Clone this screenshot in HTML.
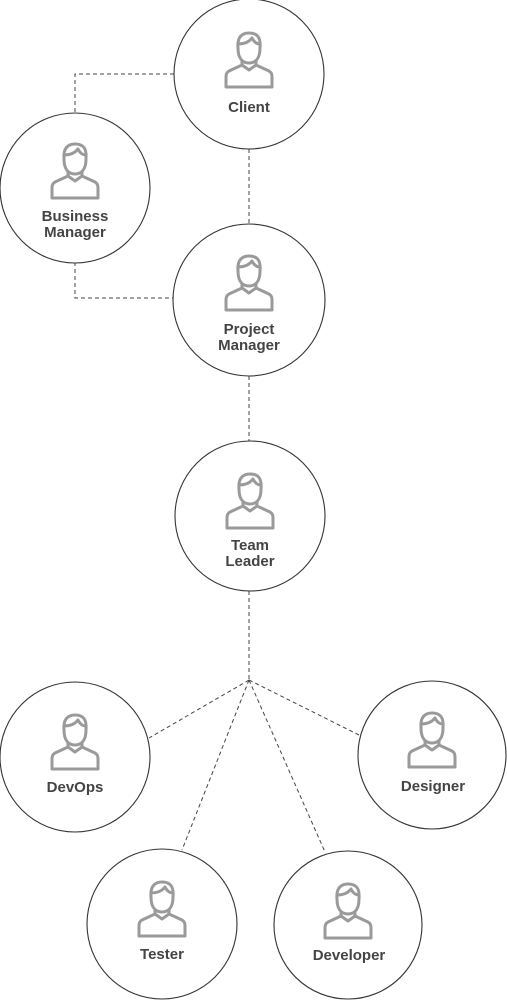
<!DOCTYPE html>
<html><head><meta charset="utf-8"><style>
html,body{margin:0;padding:0;background:#fff;}
svg{display:block;}
text{font-family:"Liberation Sans",sans-serif;font-weight:bold;font-size:15px;fill:#444;text-anchor:middle;}
</style></head><body>
<svg width="507" height="1000" viewBox="0 0 507 1000">
<defs>
<g id="p" fill="none" stroke="#9a9a9a" stroke-width="3" stroke-linejoin="round" stroke-linecap="round">
<path d="M-11 14 C-12 3 -7 -1 0 -1 C8 -1 12 3 11 14"/>
<path d="M-11 14 C-11 25 -6 29 0 29 C6 29 11 25 11 14"/>
<path d="M-11 10 C-5 10 0 8 3 4 C5 8 8 10 11 10"/>
<path d="M-7 27 L-7 31 L-20 37 C-23 39 -23 41 -23 44 L-23 53 L23 53 L23 44 C23 41 23 39 20 37 L7 31 L7 27"/>
<path d="M-7 31 L0 36 L7 31"/>
</g>
</defs>
<g fill="none" stroke="#444" stroke-width="1" stroke-dasharray="4 3">
<polyline points="75,112 75,74 174,74"/>
<polyline points="75,262 75,298 173,298"/>
<line x1="249" y1="149" x2="249" y2="224"/>
<line x1="249" y1="376" x2="249" y2="441"/>
<line x1="249" y1="591" x2="249" y2="680"/>
<line x1="249" y1="680" x2="149" y2="738"/>
<line x1="249" y1="680" x2="359" y2="735"/>
<line x1="249" y1="680" x2="182" y2="850"/>
<line x1="249" y1="680" x2="325" y2="852"/>
</g>
<g fill="#fff" stroke="#333" stroke-width="1.1">
<circle cx="249" cy="74" r="75"/>
<circle cx="75" cy="188" r="75"/>
<circle cx="249" cy="300" r="76"/>
<circle cx="250" cy="516" r="75"/>
<circle cx="75" cy="757" r="75"/>
<circle cx="432" cy="755" r="74"/>
<circle cx="162" cy="924" r="75"/>
<circle cx="348" cy="925" r="74"/>
</g>
<use href="#p" x="249" y="34"/>
<text x="249" y="112">Client</text>
<use href="#p" x="75" y="145"/>
<text x="75" y="221">Business</text><text x="75" y="237">Manager</text>
<use href="#p" x="249" y="257"/>
<text x="249" y="334">Project</text><text x="249" y="350">Manager</text>
<use href="#p" x="250" y="475"/>
<text x="250" y="550">Team</text><text x="250" y="566">Leader</text>
<use href="#p" x="75" y="716"/>
<text x="75" y="792">DevOps</text>
<use href="#p" x="432" y="714"/>
<text x="433" y="791">Designer</text>
<use href="#p" x="162" y="883"/>
<text x="162" y="959">Tester</text>
<use href="#p" x="348" y="885"/>
<text x="349" y="960">Developer</text>
</svg>
</body></html>
